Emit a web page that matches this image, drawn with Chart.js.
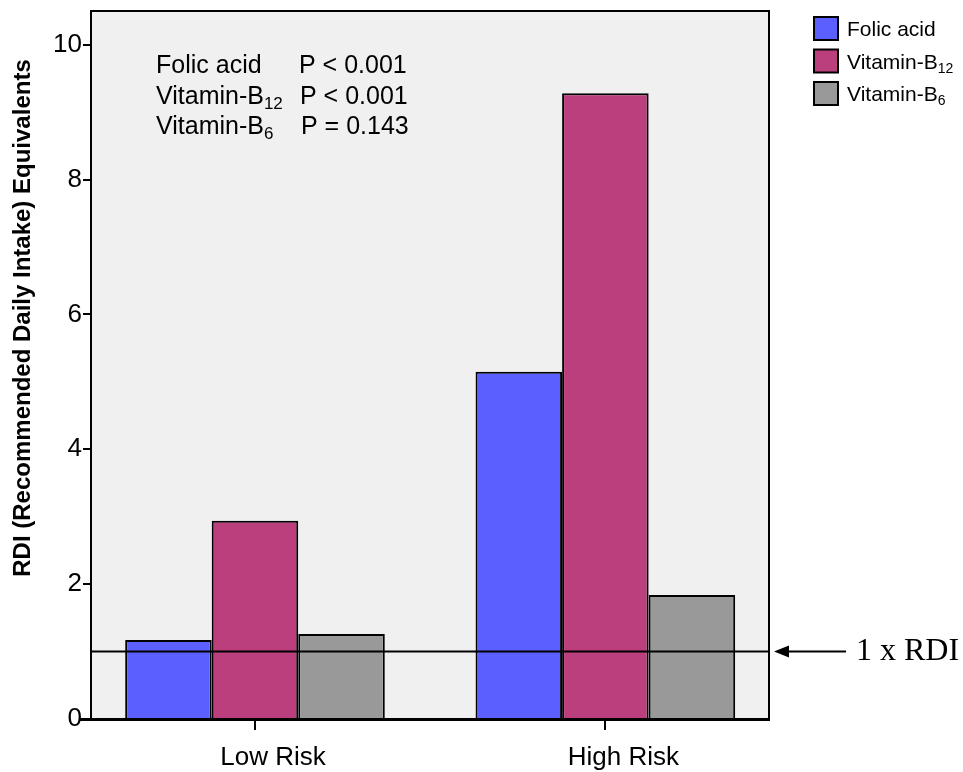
<!DOCTYPE html>
<html>
<head>
<meta charset="utf-8">
<script src="https://cdn.jsdelivr.net/npm/chart.js@4/dist/chart.umd.min.js"></script>
<style>
  html, body { margin: 0; padding: 0; background: #ffffff; }
  canvas { display: block; }
</style>
</head>
<body>
<canvas id="rdiChart" width="963" height="772"></canvas>
<script>
// Mean intake per risk group, in RDI equivalents
const riskGroups = ['Low Risk', 'High Risk'];
const folicAcid = [1.17, 5.15];
const vitaminB12 = [2.94, 9.28];
const vitaminB6 = [1.26, 1.84];

// Series names: base text plus subscript part
const seriesNames = ['Folic acid', 'Vitamin-B', 'Vitamin-B'];
const seriesSubscripts = ['', '12', '6'];
const pValueLabels = ['P < 0.001', 'P < 0.001', 'P = 0.143'];

const yTicks = [0, 2, 4, 6, 8, 10];
const rdiLevel = 1;
const rdiLabel = '1 x RDI';
const yAxisTitle = 'RDI (Recommended Daily Intake) Equivalents';

const seriesColors = ['#5c5fff', '#ba3f7c', '#999999'];
const SANS = '"Liberation Sans", Arial, Helvetica, sans-serif';
const SERIF = '"Liberation Serif", "Times New Roman", serif';

const seriesValues = [folicAcid, vitaminB12, vitaminB6];

// Text with an optional lowered, smaller suffix (chemical-style subscript)
function drawSubText(ctx, main, sub, x, y, size, subSize) {
  ctx.textAlign = 'left';
  ctx.textBaseline = 'alphabetic';
  ctx.font = size + 'px ' + SANS;
  ctx.fillText(main, x, y);
  let w = ctx.measureText(main).width;
  if (sub) {
    ctx.font = subSize + 'px ' + SANS;
    ctx.fillText(sub, x + w, y + size * 0.2);
    w += ctx.measureText(sub).width;
  }
  return w;
}

const decorations = {
  id: 'decorations',
  beforeDraw(chart) {
    const { ctx, chartArea: a } = chart;
    ctx.save();
    ctx.fillStyle = '#f0f0f0';
    ctx.fillRect(a.left, a.top, a.right - a.left, a.bottom - a.top);
    ctx.restore();
  },
  afterDatasetsDraw(chart) {
    const { ctx, chartArea: a } = chart;
    const yRdi = chart.scales.y.getPixelForValue(rdiLevel);
    ctx.save();
    ctx.strokeStyle = '#000';
    // reference line at 1 x RDI
    ctx.lineWidth = 2;
    ctx.beginPath();
    ctx.moveTo(a.left, yRdi);
    ctx.lineTo(a.right, yRdi);
    ctx.stroke();
    // plot frame
    ctx.strokeRect(a.left, a.top, a.right - a.left, a.bottom - a.top);
    ctx.lineWidth = 3;
    ctx.beginPath();
    ctx.moveTo(a.left - 12, a.bottom + 0.5);
    ctx.lineTo(a.right + 1, a.bottom + 0.5);
    ctx.stroke();
    ctx.restore();
  },
  afterDraw(chart) {
    const { ctx, chartArea: a } = chart;
    const yRdi = chart.scales.y.getPixelForValue(rdiLevel);
    ctx.save();
    ctx.fillStyle = '#000';
    ctx.strokeStyle = '#000';

    // arrow pointing at the reference line
    const tip = a.right + 5;
    ctx.lineWidth = 2;
    ctx.beginPath();
    ctx.moveTo(tip + 12, yRdi);
    ctx.lineTo(tip + 72, yRdi);
    ctx.stroke();
    ctx.beginPath();
    ctx.moveTo(tip, yRdi);
    ctx.lineTo(tip + 15, yRdi - 6);
    ctx.lineTo(tip + 15, yRdi + 6);
    ctx.closePath();
    ctx.fill();
    ctx.font = '32px ' + SERIF;
    ctx.textAlign = 'left';
    ctx.textBaseline = 'middle';
    ctx.fillText(rdiLabel, tip + 82, yRdi);

    // legend
    chart.data.datasets.forEach((ds, i) => {
      const top = 17 + i * 32.5;
      ctx.fillStyle = ds.backgroundColor;
      ctx.fillRect(814, top, 24, 23);
      ctx.lineWidth = 2;
      ctx.strokeRect(814, top, 24, 23);
      ctx.fillStyle = '#000';
      drawSubText(ctx, seriesNames[i], seriesSubscripts[i], 847, top + 19, 21, 14);
    });

    // significance summary
    seriesNames.forEach((name, i) => {
      const base = 73 + i * 30.5;
      drawSubText(ctx, name, seriesSubscripts[i], 156, base, 25, 17);
      ctx.font = '25px ' + SANS;
      ctx.fillText(pValueLabels[i], 299 + i, base);
    });

    // y axis title
    ctx.translate(23, 318);
    ctx.rotate(-Math.PI / 2);
    ctx.font = 'bold 24px ' + SANS;
    ctx.textAlign = 'center';
    ctx.textBaseline = 'middle';
    ctx.fillText(yAxisTitle, 0, 0);
    ctx.restore();
  }
};

new Chart(document.getElementById('rdiChart'), {
  type: 'bar',
  data: {
    datasets: seriesValues.map((vals, i) => ({
      label: seriesNames[i] + seriesSubscripts[i],
      data: vals.map((v, j) => ({ x: j, y: v })),
      backgroundColor: seriesColors[i],
      borderColor: '#000000',
      borderWidth: 2,
      barPercentage: 1.0,
      categoryPercentage: 0.741
    }))
  },
  options: {
    responsive: false,
    animation: false,
    devicePixelRatio: 1,
    layout: { autoPadding: false, padding: { left: 0, top: 11, right: 194, bottom: 0 } },
    plugins: {
      legend: { display: false },
      tooltip: { enabled: false }
    },
    scales: {
      x: {
        type: 'linear',
        offset: false,
        min: -0.468,
        max: 1.467,
        afterBuildTicks: s => { s.ticks = riskGroups.map((_, i) => ({ value: i })); },
        afterFit: s => {
          s.height = 53;
          s.paddingLeft = 0;
          s.paddingRight = 0;
        },
        ticks: {
          callback: v => riskGroups[v],
          color: '#000',
          font: { family: SANS, size: 26 },
          labelOffset: 18,
          padding: 12,
          maxRotation: 0,
          autoSkip: false
        },
        grid: {
          offset: false,
          drawOnChartArea: false,
          drawTicks: true,
          tickLength: 11,
          tickColor: '#000',
          lineWidth: 2
        },
        border: { display: false }
      },
      y: {
        min: 0,
        max: 10.5,
        afterBuildTicks: s => { s.ticks = yTicks.map(v => ({ value: v })); },
        afterFit: s => {
          s.width = 91;
          s.paddingTop = 0;
          s.paddingBottom = 0;
        },
        ticks: {
          color: '#000',
          font: { family: SANS, size: 26 },
          padding: 1
        },
        grid: {
          drawOnChartArea: false,
          drawTicks: true,
          tickLength: 8,
          tickColor: '#000',
          lineWidth: 2
        },
        border: { display: false }
      }
    }
  },
  plugins: [decorations]
});
</script>
</body>
</html>
